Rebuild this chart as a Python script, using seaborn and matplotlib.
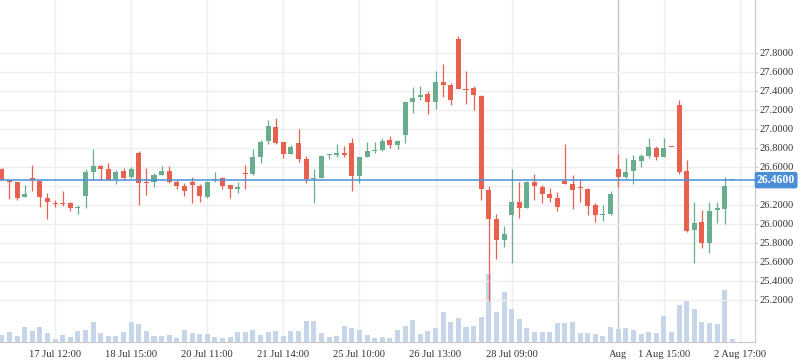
import numpy as np
import pandas as pd
import matplotlib
matplotlib.use("Agg")
import matplotlib.pyplot as plt
import seaborn as sns

# ---- data ----
opens = [26.577, 26.458, 26.440, 26.286, 26.482, 26.451, 26.272, 26.219, 26.219, 26.219,
         26.170, 26.296, 26.549, 26.608, 26.577, 26.472, 26.556, 26.496, 26.745, 26.444,
         26.444, 26.514, 26.556, 26.444, 26.398, 26.444, 26.398, 26.286, 26.458, 26.482,
         26.409, 26.370, 26.535, 26.526, 26.705, 26.875, 27.019, 26.861, 26.739, 26.851,
         26.683, 26.476, 26.486, 26.728, 26.725, 26.746, 26.851, 26.504, 26.707, 26.767,
         26.777, 26.882, 26.830, 26.935, 27.282, 27.338, 27.366, 27.282, 27.492, 27.461,
         27.944, 27.418, 27.429, 27.345, 26.356, 26.052, 25.831, 26.094, 26.230, 26.167,
         26.441, 26.388, 26.314, 26.272, 26.451, 26.420, 26.392, 26.367, 26.200, 26.093,
         26.104, 26.577, 26.496, 26.559, 26.664, 26.713, 26.798, 26.706, 26.812, 27.250,
         26.558, 25.939, 26.019, 25.802, 26.149, 26.160, 26.460]
highs = [26.584, 26.458, 26.440, 26.409, 26.619, 26.451, 26.324, 26.247, 26.345, 26.233,
         26.195, 26.577, 26.787, 26.615, 26.640, 26.566, 26.587, 26.598, 26.766, 26.587,
         26.535, 26.608, 26.608, 26.458, 26.433, 26.493, 26.419, 26.451, 26.545, 26.490,
         26.409, 26.440, 26.619, 26.788, 26.880, 27.093, 27.114, 26.861, 26.830, 27.000,
         26.714, 26.577, 26.725, 26.735, 26.840, 26.819, 26.903, 26.704, 26.861, 26.861,
         26.903, 26.928, 26.882, 27.296, 27.440, 27.450, 27.397, 27.608, 27.685, 27.482,
         27.976, 27.608, 27.450, 27.355, 26.399, 26.104, 25.978, 26.577, 26.441, 26.451,
         26.525, 26.409, 26.378, 26.335, 26.840, 26.514, 26.462, 26.378, 26.215, 26.195,
         26.345, 26.738, 26.692, 26.724, 26.734, 26.903, 26.819, 26.903, 26.812, 27.303,
         26.672, 26.230, 26.146, 26.230, 26.230, 26.493, 26.460]
lows = [26.458, 26.261, 26.254, 26.286, 26.345, 26.181, 26.051, 26.181, 26.188, 26.139,
        26.107, 26.170, 26.458, 26.458, 26.458, 26.419, 26.458, 26.482, 26.198, 26.307,
        26.391, 26.514, 26.433, 26.367, 26.296, 26.223, 26.233, 26.275, 26.444, 26.367,
        26.272, 26.328, 26.367, 26.514, 26.644, 26.844, 26.844, 26.697, 26.739, 26.651,
        26.434, 26.224, 26.486, 26.686, 26.707, 26.707, 26.350, 26.434, 26.707, 26.746,
        26.767, 26.798, 26.788, 26.854, 27.166, 27.303, 27.156, 27.208, 27.334, 27.250,
        27.418, 27.261, 27.198, 26.251, 25.189, 25.631, 25.757, 25.589, 26.062, 26.167,
        26.251, 26.223, 26.230, 26.136, 26.423, 26.157, 26.230, 26.094, 26.022, 26.034,
        26.093, 26.391, 26.472, 26.419, 26.601, 26.692, 26.675, 26.706, 26.805, 26.525,
        25.918, 25.592, 25.750, 25.697, 26.013, 26.002, 26.460]
closes = [26.458, 26.444, 26.275, 26.314, 26.458, 26.286, 26.233, 26.212, 26.212, 26.170,
          26.177, 26.545, 26.608, 26.577, 26.458, 26.545, 26.486, 26.577, 26.433, 26.433,
          26.514, 26.556, 26.440, 26.402, 26.345, 26.412, 26.296, 26.440, 26.468, 26.402,
          26.370, 26.384, 26.528, 26.704, 26.863, 27.030, 26.847, 26.739, 26.809, 26.686,
          26.472, 26.486, 26.714, 26.731, 26.746, 26.725, 26.504, 26.704, 26.767, 26.777,
          26.872, 26.830, 26.872, 27.282, 27.324, 27.355, 27.282, 27.492, 27.461, 27.303,
          27.418, 27.408, 27.355, 26.367, 26.052, 25.831, 25.894, 26.230, 26.167, 26.441,
          26.399, 26.318, 26.276, 26.181, 26.423, 26.356, 26.381, 26.188, 26.096, 26.103,
          26.314, 26.496, 26.545, 26.671, 26.717, 26.808, 26.706, 26.798, 26.805, 26.549,
          25.928, 26.009, 25.802, 26.135, 26.167, 26.398, 26.460]
volumes = [7.3, 10, 6.3, 15.3, 11.3, 15.3, 9.3, 3.3, 7.3, 5.3, 11.3, 12.3, 20.3, 9.3, 6.3,
           6.3, 10.3, 20.3, 18.3, 11.3, 6.3, 6.3, 7.3, 4.3, 12.3, 9.3, 8.3, 8.3, 5.3, 4.3,
           5.3, 10.3, 10.3, 12.3, 7.3, 10.3, 11.3, 6.3, 11.3, 11.3, 21.3, 21.3, 9.3, 5.3,
           6.3, 16.3, 14.3, 12.3, 7.3, 4.3, 5.3, 4.3, 12.3,
           16.3, 22.3, 8.3, 11.3, 14.3, 30.3, 20.3, 24.3, 15.3, 16.3, 25.3, 68.3, 30.3,
           50.3, 33.3, 23.3, 14.3, 10.3, 10.3, 10.3, 19.3, 19.3, 20.3, 9.3, 9.3, 8.3, 6.3,
           15.3, 13.3, 14.3, 12.3, 8.3, 10.3, 9.3, 26.3, 10.3, 37.3, 41.3, 33.3, 20.3,
           19.3, 18.3, 52.3, 3.3]
tick_pos = [7, 17, 27, 37, 47, 57, 67, 81, 87, 97]
tick_labels = ["17 Jul 12:00", "18 Jul 15:00", "20 Jul 11:00", "21 Jul 14:00",
               "25 Jul 10:00", "26 Jul 13:00", "28 Jul 09:00", "Aug",
               "1 Aug 15:00", "2 Aug 17:00"]
month_tick = 81
price_ticks = [25.2, 25.4, 25.6, 25.8, 26.0, 26.2, 26.4, 26.6, 26.8, 27.0,
               27.2, 27.4, 27.6, 27.8]
last_price = 26.46

# ---- styling ----
sns.set_style("white")
plt.rcParams['font.family'] = ['Liberation Serif', 'DejaVu Serif']

UP = "#6aad8e"
DOWN = "#e9604f"
VOL = "#c6d6e8"
GRID = "#eeeeee"
AXIS = "#c8c8c8"
BLUE = "#4a8fd6"
TXT = "#333333"

W, H = 798, 363
fig = plt.figure(figsize=(W / 100, H / 100), dpi=100)
ax_v = fig.add_axes([0, 20.7 / H, 754.7 / W, 342.3 / H])
ax_p = ax_v.twinx()

idx = np.arange(len(closes))
df = pd.DataFrame({"i": idx, "vol": volumes, "o": opens, "h": highs,
                   "l": lows, "c": closes})

# volume bars via seaborn
sns.barplot(data=df, x="i", y="vol", native_scale=True, color=VOL,
            width=0.66, errorbar=None, linewidth=0, saturation=1, ax=ax_v)
ax_v.set_ylim(0, 342.3)
ax_v.set_xlim(-0.2365, 98.94)
ax_v.set_xlabel("")
ax_v.set_ylabel("")
ax_v.set_yticks([])
ax_v.set_xticks(tick_pos)
ax_v.set_xticklabels(tick_labels)
ax_v.tick_params(axis="x", length=3, width=0.8, color=AXIS, labelsize=7.6,
                 labelcolor=TXT, pad=2.5)
ax_v.grid(axis="x", color=GRID, lw=1)
ax_v.set_axisbelow(True)
ax_v.axvline(month_tick, color=AXIS, lw=1, zorder=0.6)
for s in ["top", "left", "right"]:
    ax_v.spines[s].set_visible(False)
ax_v.spines["bottom"].set_color(AXIS)
ax_v.spines["bottom"].set_linewidth(0.8)

# candles
up = df["c"] >= df["o"]
cols = np.where(up, UP, DOWN)
body_lo = np.minimum(df["o"], df["c"])
body_h = np.maximum(np.abs(df["c"] - df["o"]), 0.011)
ax_p.vlines(df["i"], df["l"], df["h"], colors=cols, lw=0.9, zorder=2)
ax_p.bar(df["i"], body_h, bottom=body_lo, width=0.66, color=cols,
         linewidth=0, zorder=3)
ax_p.set_ylim(24.755, 28.354)
ax_p.set_xlim(-0.2365, 98.94)
ax_p.set_yticks(price_ticks)
# the 26.4 tick label sits under the last-price badge, as in the reference
ax_p.set_yticklabels(["" if abs(t - 26.4) < 1e-9 else f"{t:.4f}" for t in price_ticks])
ax_p.tick_params(axis="y", length=2.5, width=0.8, color=AXIS, labelsize=7.6,
                 labelcolor=TXT, pad=1)
ax_p.grid(axis="y", color=GRID, lw=1)
ax_p.set_axisbelow(True)
for s in ["top", "left", "bottom"]:
    ax_p.spines[s].set_visible(False)
ax_p.spines["right"].set_color(AXIS)
ax_p.spines["right"].set_linewidth(0.8)

# last price line and label
ax_p.axhline(last_price, color=BLUE, lw=1.1, zorder=4)
ax_p.annotate(f"{last_price:.4f}", xy=(1, last_price),
              xycoords=ax_p.get_yaxis_transform(),
              xytext=(1.6, 0), textcoords="offset points",
              ha="left", va="center", fontsize=8.5, fontweight="bold",
              color="white", annotation_clip=False,
              bbox=dict(boxstyle="round,pad=0.19,rounding_size=0.2",
                        fc=BLUE, ec="none"))

fig.savefig("out.png", dpi=100)
